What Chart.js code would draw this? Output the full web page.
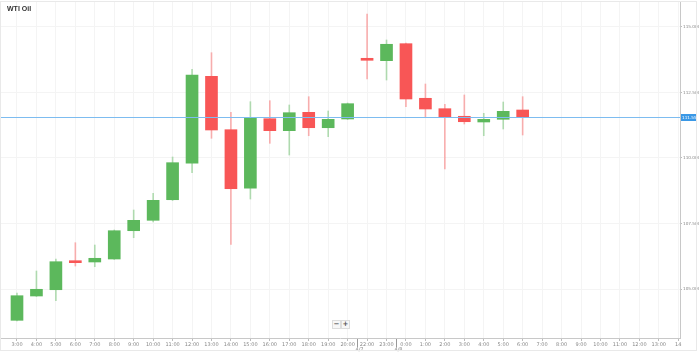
<!DOCTYPE html>
<html>
<head>
<meta charset="utf-8">
<script src="https://cdn.jsdelivr.net/npm/chart.js@4"></script>
<style>
  html, body { margin: 0; padding: 0; background: #fff; }
  #wrap { position: relative; width: 699px; height: 353px; overflow: hidden; }
  #frame { position: absolute; left: 0; top: 1px; width: 697px; height: 350px; border: 1px solid #e9e9e9; box-sizing: border-box; pointer-events: none; }
  #title { position: absolute; left: 7px; top: 5px; font: bold 7px "Liberation Sans", Arial, sans-serif; color: #333; }
  .zbtn { position: absolute; top: 320px; width: 7px; height: 7px; border: 1px solid #ddd; background: #f7f7f7; font: bold 7px "DejaVu Sans", sans-serif; line-height: 7px; text-align: center; color: #555; }
</style>
</head>
<body>
<div id="wrap">
  <canvas id="c" width="699" height="353"></canvas>
  <div id="frame"></div>
  <div id="title">WTI Oil</div>
  <div class="zbtn" style="left:332px">−</div>
  <div class="zbtn" style="left:341px">+</div>
</div>
<script>
const categories = ["3:00","4:00","5:00","6:00","7:00","8:00","9:00","10:00","11:00","12:00","13:00","14:00","15:00","16:00","17:00","18:00","19:00","20:00","22:00","23:00","0:00","1:00","2:00","3:00","4:00","5:00","6:00","7:00","8:00","9:00","10:00","11:00","12:00","13:00","14"];
const openVals  = [103.805,104.733,104.973,106.057,106.031,106.145,107.225,107.622,108.408,109.798,113.118,111.080,108.844,111.500,111.042,111.744,111.156,111.489,113.767,113.714,114.363,112.279,111.882,111.592,111.374,111.477,111.832];
const highVals  = [104.847,105.687,106.145,106.767,106.679,107.252,108.015,108.653,110.038,113.385,114.019,111.744,112.149,112.187,112.023,112.340,111.794,112.099,115.496,114.504,114.389,112.824,112.050,112.405,111.706,112.137,112.340];
const lowVals   = [103.779,104.714,104.553,105.878,105.851,106.126,106.958,107.557,108.378,109.439,110.752,106.706,108.435,110.561,110.115,110.851,110.813,111.469,113.015,112.977,111.958,111.553,109.580,111.298,110.851,111.107,110.878];
const closeVals = [104.744,104.989,106.042,106.004,106.172,107.225,107.622,108.385,109.821,113.168,111.069,108.828,111.538,111.042,111.729,111.156,111.477,112.073,113.729,114.340,112.252,111.870,111.576,111.385,111.477,111.782,111.553];
const yTicks = [105, 107.5, 110, 112.5, 115];
const dateLabels = [{at: 17.5, text: "4/7"}, {at: 19.5, text: "4/8"}];

const GREEN = "#5cb85c", RED = "#f85656";
const GREEN_W = "rgba(92,184,92,0.45)", RED_W = "rgba(248,86,86,0.45)";
const up = openVals.map((o, i) => closeVals[i] >= o);

const bodies = openVals.map((o, i) => ({x: i, y: [o, closeVals[i]]}));
const wicks = lowVals.map((l, i) => ({x: i, y: [l, highVals[i]]}));
const lastClose = closeVals[closeVals.length - 1];

const extras = {
  id: "extras",
  afterDraw(chart) {
    const {ctx, chartArea, scales} = chart;
    const x = scales.x, y = scales.y;
    const py = Math.round(y.getPixelForValue(lastClose)) + 0.5;
    ctx.save();
    ctx.strokeStyle = "#7dbcf0";
    ctx.lineWidth = 1;
    ctx.beginPath();
    ctx.moveTo(chartArea.left, py);
    ctx.lineTo(chartArea.right, py);
    ctx.stroke();
    ctx.fillStyle = "#3a98e6";
    ctx.fillRect(chartArea.right + 1, py - 3.5, 16, 7);
    ctx.fillStyle = "#fff";
    ctx.font = "4.2px 'DejaVu Sans', sans-serif";
    ctx.textAlign = "left";
    ctx.textBaseline = "middle";
    ctx.fillText(lastClose.toFixed(3), chartArea.right + 2, py + 0.5);
    ctx.strokeStyle = "#999";
    ctx.fillStyle = "#888";
    ctx.font = "5px 'DejaVu Sans', sans-serif";
    ctx.textAlign = "center";
    ctx.textBaseline = "top";
    dateLabels.forEach(d => {
      const dx = Math.round(x.getPixelForValue(d.at)) + 0.5;
      ctx.beginPath();
      ctx.moveTo(dx, chartArea.bottom + 1);
      ctx.lineTo(dx, chartArea.bottom + 9);
      ctx.stroke();
      ctx.fillText(d.text, dx + 2, chartArea.bottom + 9);
    });
    ctx.restore();
  }
};

new Chart(document.getElementById("c"), {
  type: "bar",
  data: {
    datasets: [
      {
        data: bodies,
        backgroundColor: up.map(u => u ? GREEN : RED),
        borderWidth: 0,
        barThickness: 12,
        minBarLength: 2,
        grouped: false,
        order: 0
      },
      {
        data: wicks,
        backgroundColor: up.map(u => u ? GREEN_W : RED_W),
        borderWidth: 0,
        barThickness: 1,
        grouped: false,
        order: 1
      }
    ]
  },
  options: {
    responsive: false,
    animation: false,
    events: [],
    layout: { padding: { top: 2, left: 0, right: 0, bottom: 0 } },
    plugins: { legend: { display: false }, tooltip: { enabled: false }, title: { display: false } },
    scales: {
      x: {
        type: "linear",
        position: "bottom",
        offset: false,
        min: -0.874,
        max: 34.09,
        afterBuildTicks(scale) { scale.ticks = categories.map((_, i) => ({value: i})); },
        afterFit(scale) { scale.height = 15; scale.paddingLeft = 0; scale.paddingRight = 0; },
        grid: { color: "#f4f4f4", tickLength: 3, tickColor: "#bbb", offset: false },
        border: { color: "#c8c8c8" },
        ticks: {
          autoSkip: false,
          maxRotation: 0,
          padding: 1,
          color: "#888",
          font: { size: 5, family: "'DejaVu Sans', sans-serif" },
          callback: (v) => categories[v]
        }
      },
      y: {
        type: "linear",
        position: "right",
        min: 103.13,
        max: 115.954,
        afterBuildTicks(scale) { scale.ticks = yTicks.map(v => ({value: v})); },
        afterFit(scale) { scale.width = 19; scale.paddingTop = 0; scale.paddingBottom = 0; },
        grid: { color: "#f4f4f4", tickLength: 2, tickColor: "#bbb" },
        border: { color: "#c8c8c8" },
        ticks: {
          padding: 1,
          color: "#888",
          font: { size: 4.2, family: "'DejaVu Sans', sans-serif" },
          callback: (v) => v.toFixed(3)
        }
      }
    }
  },
  plugins: [extras]
});
</script>
</body>
</html>
